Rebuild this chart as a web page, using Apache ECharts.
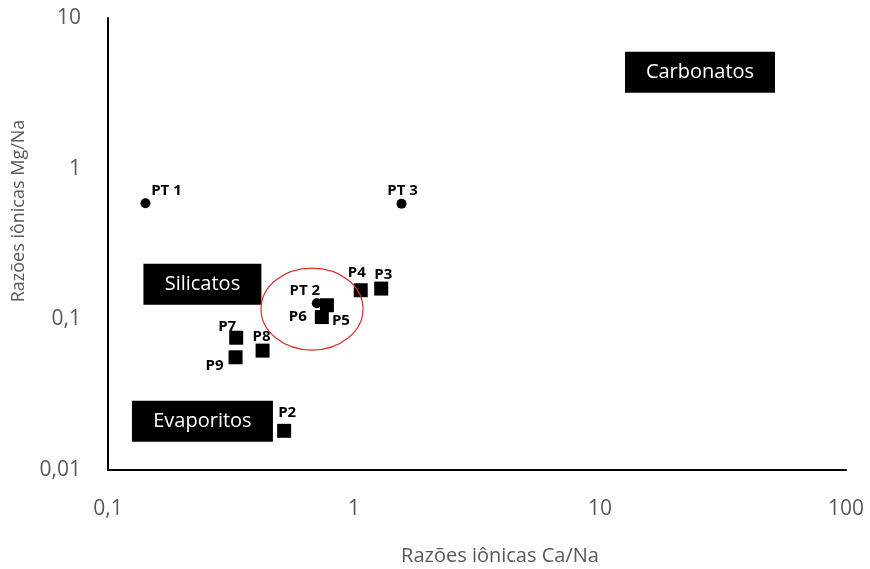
<!DOCTYPE html>
<html><head><meta charset="utf-8">
<script src="https://cdn.jsdelivr.net/npm/echarts@6/dist/echarts.min.js"></script>
<style>html,body{margin:0;padding:0;background:#fff}#c{width:870px;height:569px}</style>
</head><body><div id="c"></div>
<script>
// Data (Ca/Na, Mg/Na)
const wellNames = ['PT 1', 'PT 2', 'PT 3'];
const wellCa = [0.142, 0.706, 1.56];
const wellMg = [0.59, 0.128, 0.585];
const pointNames = ['P2', 'P3', 'P4', 'P5', 'P6', 'P7', 'P8', 'P9'];
const pointCa = [0.52, 1.29, 1.065, 0.776, 0.74, 0.332, 0.425, 0.33];
const pointMg = [0.0182, 0.16, 0.156, 0.124, 0.1035, 0.0755, 0.062, 0.056];
const zoneNames = ['Carbonatos', 'Silicatos', 'Evaporitos'];
const zoneCa = [25.5, 0.242, 0.242];
const zoneMg = [4.37, 0.171, 0.0211];
const circleCenter = [0.675, 0.117];
const xTicks = ['0,1', '1', '10', '100'];
const yTicks = ['0,01', '0,1', '1', '10'];

// label offsets (style only)
const wellOffsets = {'PT 1': [21, -12], 'PT 2': [-12, -12], 'PT 3': [1, -13]};
const pointOffsets = {'P2': [3, -18], 'P3': [2, -14], 'P4': [-4, -18], 'P5': [14, 15], 'P6': [-24, 0], 'P7': [-9, -11], 'P8': [-1, -14], 'P9': [-21, 8]};
const zoneWidths = {'Carbonatos': 150, 'Silicatos': 118, 'Evaporitos': 141};

const FONT = 'Open Sans';
const chart = echarts.init(document.getElementById('c'));
function fmt(v, arr, vals) { const i = vals.findIndex(t => Math.abs(t - v) / t < 1e-6); return i >= 0 ? arr[i] : ''; }
const lblStyle = {show: true, position: 'inside', fontFamily: FONT, fontWeight: 'bold', fontSize: 15, color: '#000', letterSpacing: -0.3};

chart.setOption({
  animation: false,
  grid: {left: 108, right: 24, top: 18, bottom: 99, containLabel: false, outerBoundsMode: 'none'},
  xAxis: {
    type: 'log', logBase: 10, min: 0.1, max: 100,
    name: 'Razões iônicas Ca/Na', nameLocation: 'middle', nameGap: 76,
    nameTextStyle: {fontFamily: FONT, fontSize: 20, color: '#595959', padding: [0, 0, 0, 46]},
    axisLine: {lineStyle: {color: '#000', width: 2}}, axisTick: {show: false}, splitLine: {show: false}, minorTick: {show: false},
    axisLabel: {fontFamily: FONT, fontSize: 21, color: '#595959', margin: 29, formatter: v => fmt(v, xTicks, [0.1, 1, 10, 100])}
  },
  yAxis: {
    type: 'log', logBase: 10, min: 0.01, max: 10,
    name: 'Razões iônicas Mg/Na', nameLocation: 'middle', nameGap: 80,
    nameTextStyle: {fontFamily: FONT, fontSize: 18, color: '#595959', padding: [0, 0, 0, 66]},
    axisLine: {lineStyle: {color: '#000', width: 2}}, axisTick: {show: false}, splitLine: {show: false},
    axisLabel: {fontFamily: FONT, fontSize: 21, color: '#595959', margin: 27, formatter: v => fmt(v, yTicks, [0.01, 0.1, 1, 10])}
  },
  series: [
    {
      type: 'scatter', symbol: 'rect', symbolSize: 14, itemStyle: {color: '#000', opacity: 1},
      data: pointNames.map((n, i) => ({name: n, value: [pointCa[i], pointMg[i]], label: Object.assign({}, lblStyle, {formatter: n, offset: pointOffsets[n]})}))
    },
    {
      type: 'scatter', symbol: 'circle', symbolSize: 10, itemStyle: {color: '#000', opacity: 1}, z: 3,
      data: wellNames.map((n, i) => ({name: n, value: [wellCa[i], wellMg[i]], label: Object.assign({}, lblStyle, {formatter: n, offset: wellOffsets[n]})}))
    },
    {
      type: 'scatter', symbolSize: 0, silent: true, itemStyle: {opacity: 1},
      data: zoneNames.map((n, i) => ({name: n, value: [zoneCa[i], zoneMg[i]], label: {
        show: true, position: 'inside', formatter: n, fontFamily: FONT, fontSize: 20, color: '#fff',
        backgroundColor: '#000', width: zoneWidths[n], height: 41, lineHeight: 41, align: 'center', verticalAlign: 'middle'
      }}))
    }
  ]
});
const c = chart.convertToPixel({gridIndex: 0}, circleCenter);
chart.setOption({graphic: [{type: 'ellipse', shape: {cx: c[0], cy: c[1], rx: 51, ry: 41}, style: {fill: 'none', stroke: '#d9302f', lineWidth: 1.2}, z: 10}]});
</script></body></html>
